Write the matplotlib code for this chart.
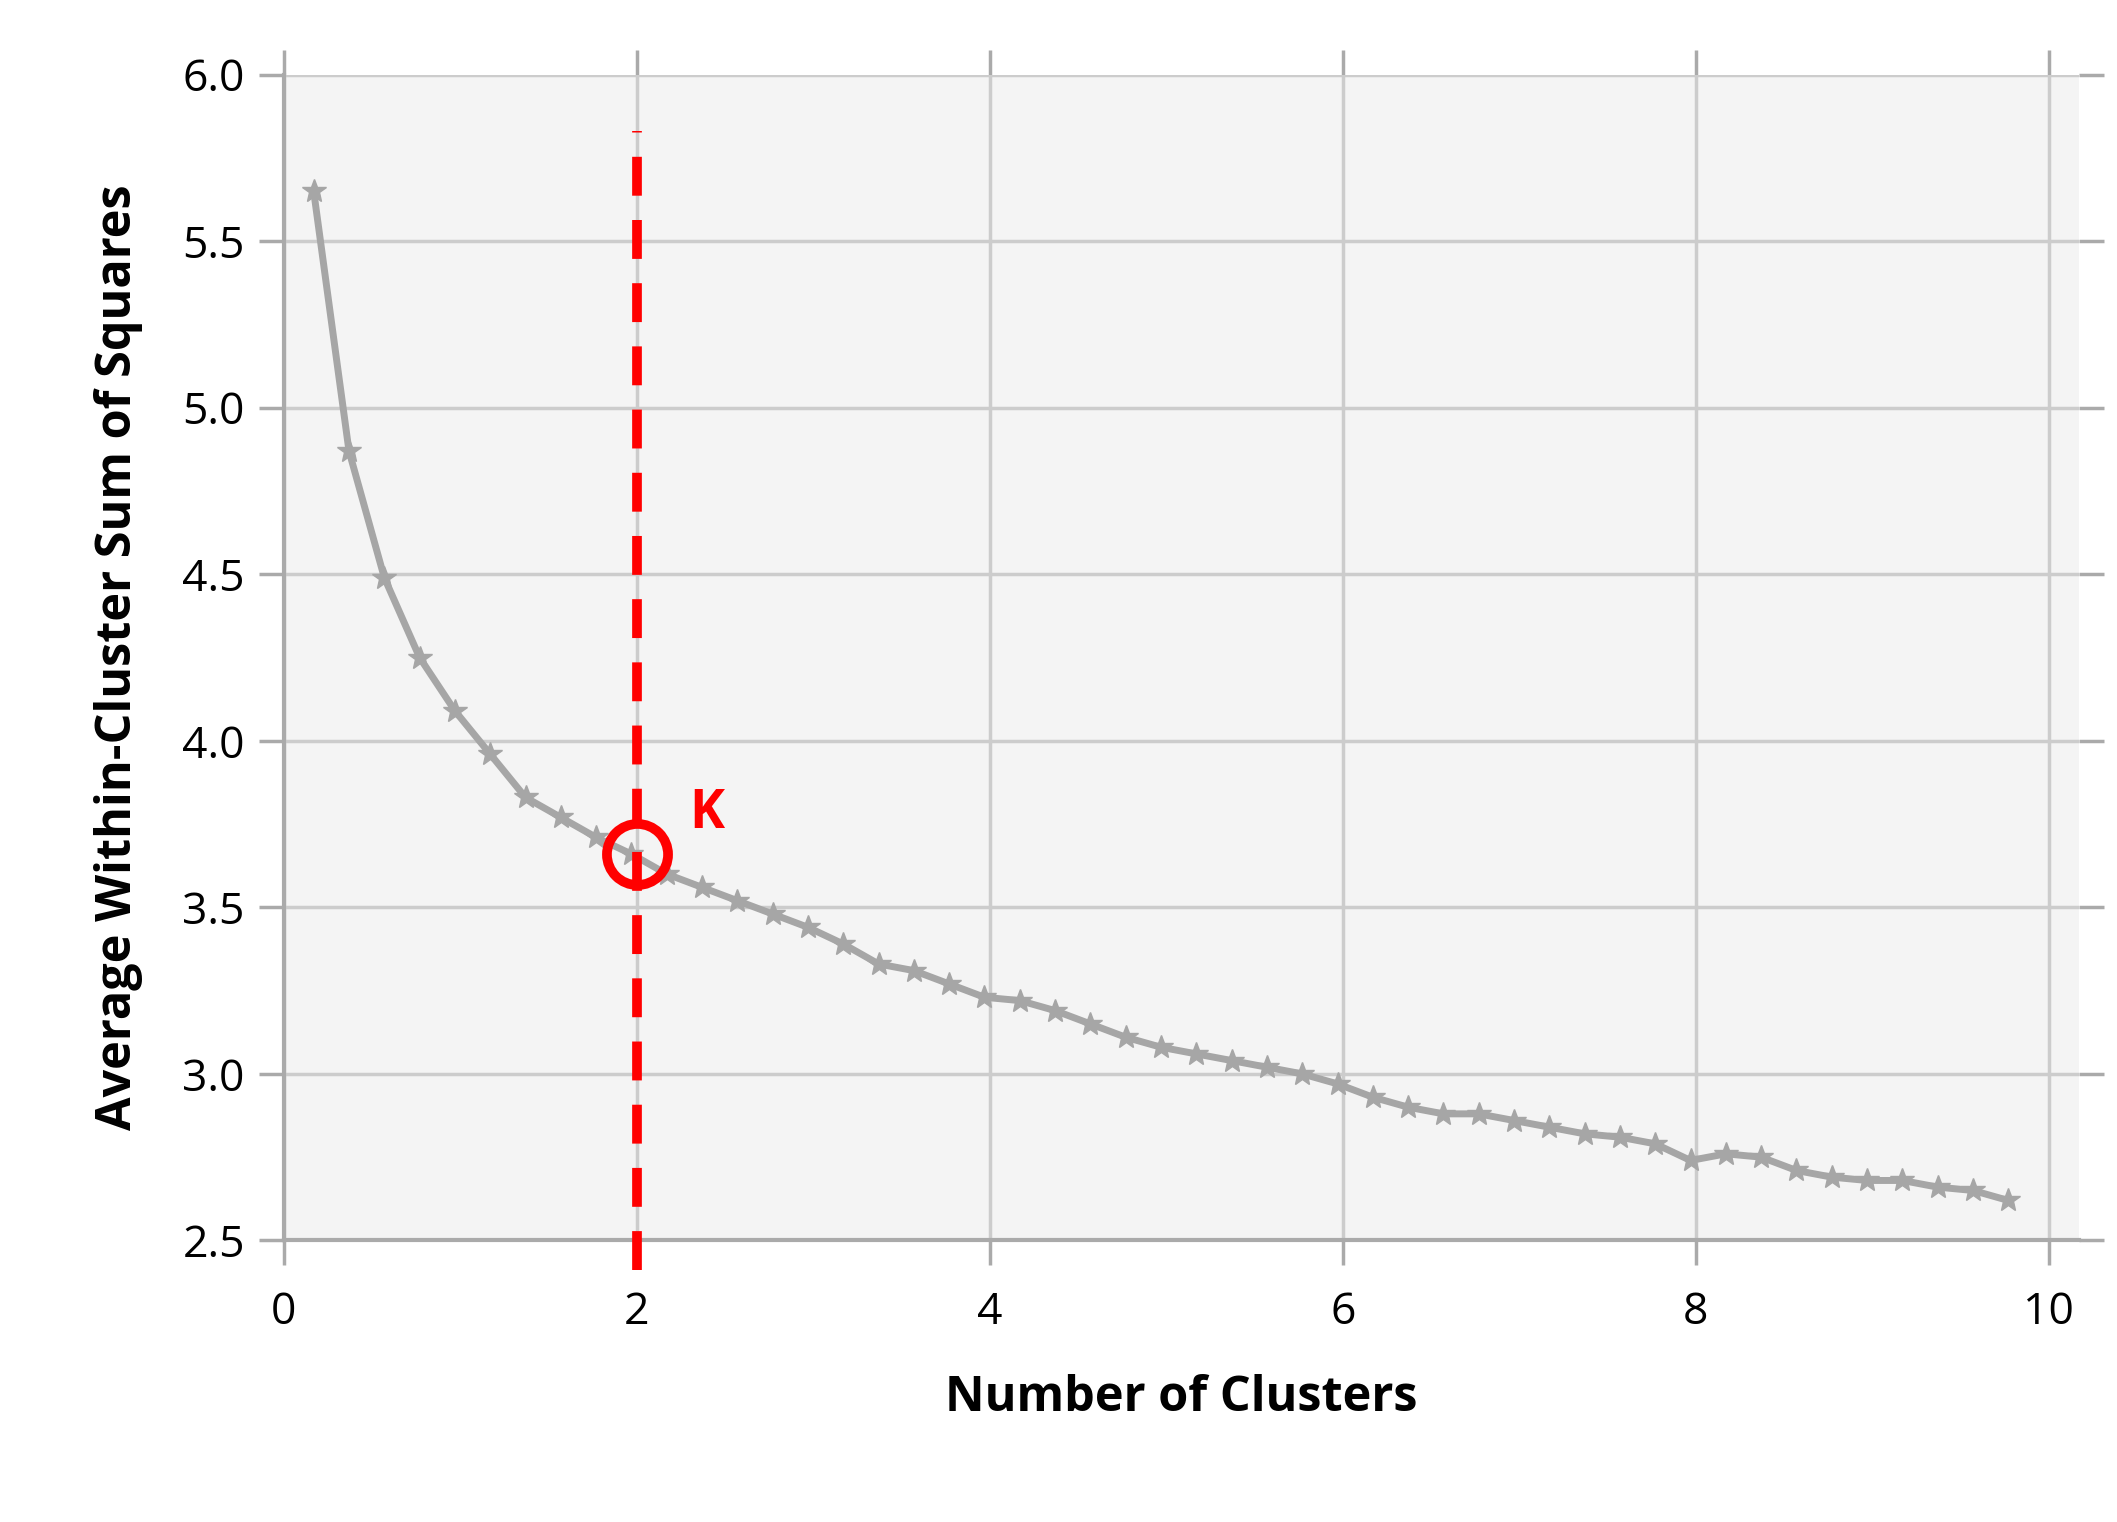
import matplotlib
matplotlib.use("Agg")
import matplotlib.pyplot as plt

x_vals = [0.17,0.37,0.57,0.77,0.97,1.17,1.37,1.57,1.77,1.97,2.17,2.37,2.57,2.77,2.97,3.17,3.37,3.57,3.77,3.97,
          4.17,4.37,4.57,4.77,4.97,5.17,5.37,5.57,5.77,5.97,6.17,6.37,6.57,6.77,6.97,7.17,7.37,7.57,7.77,7.97,
          8.17,8.37,8.57,8.77,8.97,9.17,9.37,9.57,9.77]
y_vals = [5.65,4.87,4.49,4.25,4.09,3.96,3.83,3.77,3.71,3.66,3.60,3.56,3.52,3.48,3.44,3.39,3.33,3.31,3.27,3.23,
          3.22,3.19,3.15,3.11,3.08,3.06,3.04,3.02,3.00,2.97,2.93,2.90,2.88,2.88,2.86,2.84,2.82,2.81,2.79,2.74,
          2.76,2.75,2.71,2.69,2.68,2.68,2.66,2.65,2.62]
k_x = 2.0
k_y = 3.66
x_ticks = [0, 2, 4, 6, 8, 10]
y_ticks = [2.5, 3.0, 3.5, 4.0, 4.5, 5.0, 5.5, 6.0]

plt.rcParams['font.family'] = ['Open Sans', 'DejaVu Sans']
fig = plt.figure(figsize=(21.17, 15.22), dpi=100)
ax = fig.add_axes([0.134, 0.185, 0.848, 0.766])
ax.set_facecolor('#f4f4f4')
ax.set_xlim(0, 10.17)
ax.set_ylim(2.5, 6.0)
ax.set_xticks(x_ticks)
ax.set_yticks(y_ticks)
ax.set_yticklabels([f"{v:.1f}" for v in y_ticks])
ax.grid(True, color='#cccccc', lw=2.5)
ax.set_axisbelow(True)
for s in ['top', 'right']:
    ax.spines[s].set_visible(False)
for s in ['left', 'bottom']:
    ax.spines[s].set_color('#aaaaaa')
    ax.spines[s].set_linewidth(3)
ax.tick_params(axis='both', which='both', direction='out', length=18, width=2.5,
               color='#aaaaaa', labelsize=32, pad=10, right=True, top=True)
ax.tick_params(axis='x', pad=18)

ax.plot(x_vals, y_vals, color='#a6a6a6', lw=5, marker='*', markersize=18,
        markeredgecolor='#a6a6a6', markerfacecolor='#a6a6a6', zorder=3)
ax.plot([k_x, k_x], [2.41, 5.83], color='red', lw=7, dashes=(4, 2.5), clip_on=False, zorder=4)
ax.plot([k_x], [k_y], marker='o', markersize=44, markerfacecolor='none',
        markeredgecolor='red', markeredgewidth=7, zorder=5)
ax.text(k_x + 0.3, k_y + 0.12, 'K', color='red', fontsize=38, fontweight='bold', va='center', ha='left', zorder=6)

ax.set_xlabel('Number of Clusters', fontsize=35, fontweight='bold', labelpad=28)
ax.set_ylabel('Average Within-Cluster Sum of Squares', fontsize=35, fontweight='bold', labelpad=28)
fig.savefig('out.png', dpi=100)
